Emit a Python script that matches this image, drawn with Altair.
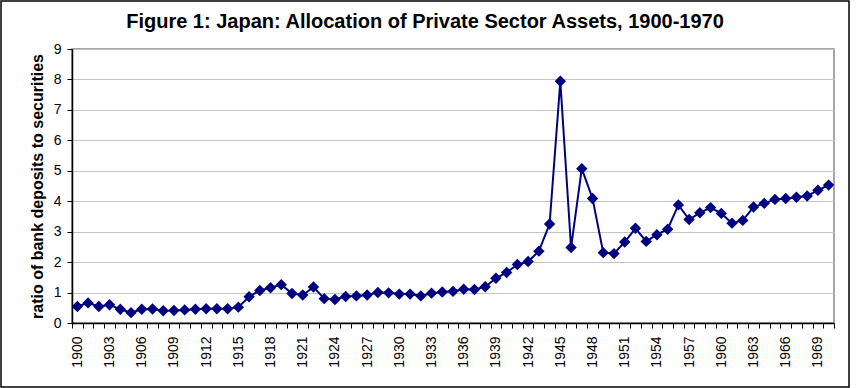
import altair as alt
import pandas as pd

# Japan: ratio of bank deposits to securities held by the private sector
years = list(range(1900, 1971))
ratio = [
    0.54, 0.66, 0.54, 0.60, 0.45, 0.34, 0.45, 0.46, 0.40, 0.41,   # 1900-1909
    0.43, 0.45, 0.47, 0.47, 0.47, 0.52, 0.86, 1.07, 1.16, 1.26,   # 1910-1919
    0.97, 0.92, 1.18, 0.80, 0.77, 0.87, 0.89, 0.92, 1.00, 0.99,   # 1920-1929
    0.95, 0.95, 0.89, 0.98, 1.02, 1.04, 1.11, 1.10, 1.19, 1.47,   # 1930-1939
    1.66, 1.92, 2.02, 2.36, 3.25, 7.94, 2.48, 5.07, 4.09, 2.31,   # 1940-1949
    2.28, 2.66, 3.11, 2.68, 2.90, 3.08, 3.88, 3.40, 3.62, 3.79,   # 1950-1959
    3.60, 3.28, 3.37, 3.81, 3.93, 4.06, 4.09, 4.13, 4.17, 4.36,   # 1960-1969
    4.53,                                                         # 1970
]
y_ticks = list(range(0, 10))

df = pd.DataFrame({"year": years, "ratio": ratio})

FONT = "Liberation Sans"
NAVY = "#000080"
W, H = 762, 274
PAD_L, PAD_T = 72, 49

x_enc = alt.X(
    "year:O",
    scale=alt.Scale(type="band", paddingInner=0, paddingOuter=0),
    bandPosition=0.5,
    axis=alt.Axis(
        title=None,
        labelAngle=270,
        labelExpr="(+datum.value - 1900) % 3 == 0 ? datum.label : ''",
        labelOverlap=False,
        tickBand="extent",
        labelPadding=8,
    ),
)
y_enc = alt.Y(
    "ratio:Q",
    scale=alt.Scale(domain=[0, 9], nice=False),
    axis=alt.Axis(
        title="ratio of bank deposits to securities",
        values=y_ticks,
        grid=True,
        titlePadding=8,
        labelPadding=6,
    ),
)

base = alt.Chart(df)
line = base.mark_line(color=NAVY, strokeWidth=2).encode(x=x_enc, y=y_enc)
points = base.mark_point(
    shape="diamond", filled=True, size=130, color=NAVY, opacity=1
).encode(x=x_enc, y=y_enc)

# outer border around the whole figure
frame = alt.Chart(pd.DataFrame({"k": [0]})).mark_rect(
    fill=None, stroke="black", strokeWidth=1.5
).encode(
    x=alt.value(1 - PAD_L),
    x2=alt.value(849 - PAD_L),
    y=alt.value(1 - PAD_T),
    y2=alt.value(387 - PAD_T),
)

chart = (
    alt.layer(frame, line, points)
    .properties(
        width=W,
        height=H,
        background="white",
        title=alt.TitleParams(
            "Figure 1: Japan: Allocation of Private Sector Assets, 1900-1970",
            font=FONT,
            fontSize=20,
            fontWeight="bold",
            color="black",
            anchor="middle",
            baseline="alphabetic",
            dx=-28,
            dy=66,
            offset=18,
        ),
        autosize=alt.AutoSizeParams(type="none"),
        padding={"left": PAD_L, "top": PAD_T, "right": 864 - PAD_L - W, "bottom": 388 - PAD_T - H},
    )
    .configure_view(stroke="#888888", strokeWidth=1.5)
    .configure_axis(
        labelFont=FONT,
        labelFontSize=14,
        labelColor="black",
        titleFont=FONT,
        titleFontSize=16,
        titleFontWeight="bold",
        titleColor="black",
        domainColor="black",
        domainWidth=1.5,
        tickColor="black",
        tickSize=5,
        tickWidth=1,
        gridColor="#c4c4c4",
        gridWidth=1,
    )
)

chart.save("out.html", embed_options={"renderer": "svg", "actions": False})
